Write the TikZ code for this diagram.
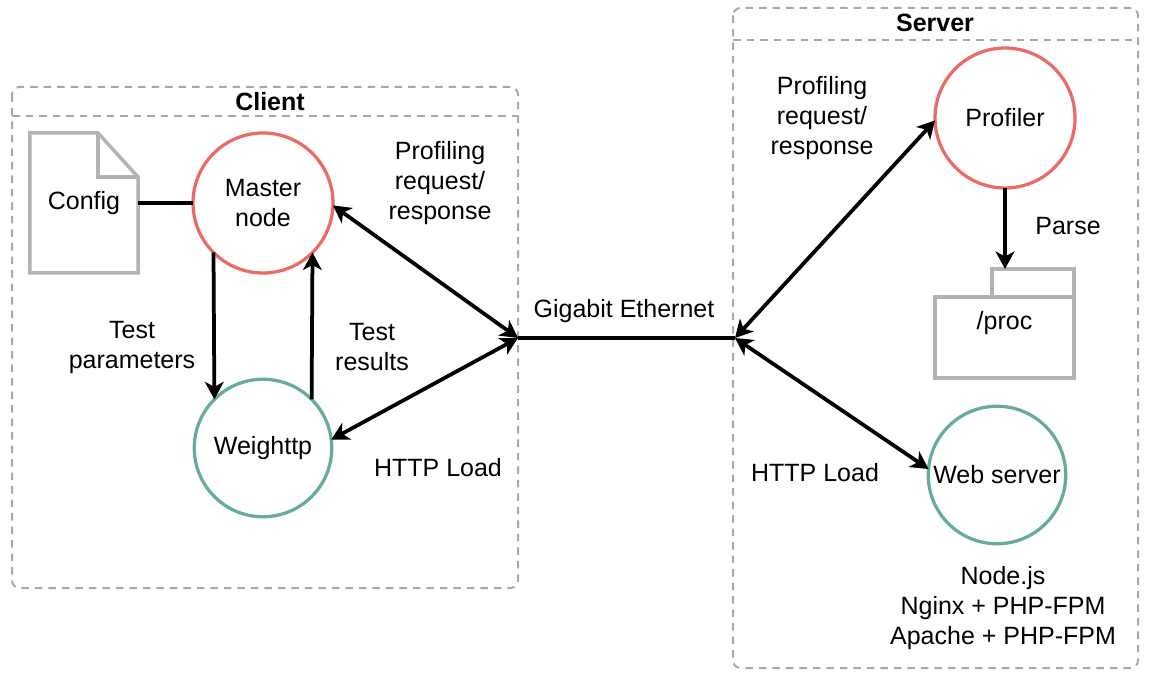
\documentclass[tikz,border=0pt]{standalone}
\usepackage{fontspec}
\setmainfont{Liberation Sans}
\usetikzlibrary{arrows.meta}
\definecolor{cred}{HTML}{EA6B66}
\definecolor{cteal}{HTML}{67AB9F}
\definecolor{cdoc}{HTML}{B3B3B3}
\definecolor{cdash}{HTML}{A8A8A8}
\begin{document}
\begin{tikzpicture}[x=0.4pt,y=-0.4pt,
  font=\fontsize{10}{12}\selectfont,
  every node/.style={inner sep=0pt, outer sep=0pt},
  lbl/.style={align=center},
  grp/.style={draw=cdash, line width=0.8pt, dash pattern=on 3pt off 2.4pt, rounded corners=3pt},
  grpline/.style={draw=cdash, line width=0.8pt, dash pattern=on 3pt off 2.4pt},
  redc/.style={circle, draw=cred, line width=1.3pt, minimum size=56pt, align=center},
  tealc/.style={circle, draw=cteal, line width=1.3pt, minimum size=55pt, align=center},
  shapeline/.style={draw=cdoc, line width=1.4pt},
  conn/.style={line width=1.5pt, black},
  tip/.tip={Stealth[length=7pt, width=7.5pt, inset=2pt]},
  arr/.style={conn, -tip},
  darr/.style={conn, tip-tip}
]
\useasboundingbox (0,0) rectangle (1150,678);

% group boxes
\draw[grp] (12,87) rectangle (518,588);
\draw[grpline] (12,116) -- (518,116);
\node[font=\fontsize{10}{12}\selectfont\bfseries] (clientT) at (270,102) {Client};

\draw[grp] (733,8) rectangle (1138,668);
\draw[grpline] (733,40) -- (1138,40);
\node[font=\fontsize{10}{12}\selectfont\bfseries] (serverT) at (935,23) {Server};

% config document
\node[minimum width=43.2pt, minimum height=56pt] (config) at (84,203) {Config};
\draw[shapeline] (config.north west) -- ([xshift=-16pt]config.north east)
  -- ([yshift=-17.6pt]config.north east) -- (config.south east)
  -- (config.south west) -- cycle;
\draw[shapeline] ([xshift=-16pt]config.north east) |- ([yshift=-17.6pt]config.north east);

% circles
\node[redc] (master) at (263,203) {Master\\node};
\node[tealc] (weighttp) at (263,448) {Weighttp};
\node[redc] (profiler) at (1005,118) {Profiler};
\node[tealc] (web) at (997,475) {Web server};

% /proc folder
\node[minimum width=55.6pt, minimum height=43.6pt] (proc) at (1004.5,323.5) {/proc};
\draw[shapeline] (proc.south west) rectangle ([yshift=-11.2pt]proc.north east);
\draw[shapeline] ([yshift=-11.2pt, xshift=-32.8pt]proc.north east) |- (proc.north east) -- ([yshift=-11.2pt]proc.north east);

% junctions
\coordinate (jl) at (518,338);
\coordinate (jr) at (735,338);

% connectors
\draw[conn] (config.east) -- (master.west);
\draw[arr] (master.south west) -- (weighttp.north west);
\draw[arr] (weighttp.north east) -- (master.south east);
\draw[darr] (master.-2) -- (jl);
\draw[darr] (weighttp.7) -- (jl);
\draw[conn] (jl) -- (jr);
\draw[darr] (jr) -- (profiler.182);
\draw[darr] (jr) -- (web.175);
\draw[arr] (profiler.south) -- (profiler.south |- proc.north);

% labels
\node[lbl] (ltp) at (132,347) {Test\\parameters};
\node[lbl] (ltr) at (372,347) {Test\\results};
\node[lbl] (lpl) at (440,183) {Profiling\\request/\\response};
\node[lbl] (lhl) at (438,468) {HTTP Load};
\node[lbl] (lge) at (624,311) {Gigabit Ethernet};
\node[lbl] (lpr) at (822,118) {Profiling\\request/\\response};
\node[lbl] (lhr) at (815,473) {HTTP Load};
\node[lbl] (lparse) at (1068,226) {Parse};
\node[lbl] (lweb) at (1003,608) {Node.js\\Nginx + PHP-FPM\\Apache + PHP-FPM};
\end{tikzpicture}
\end{document}
